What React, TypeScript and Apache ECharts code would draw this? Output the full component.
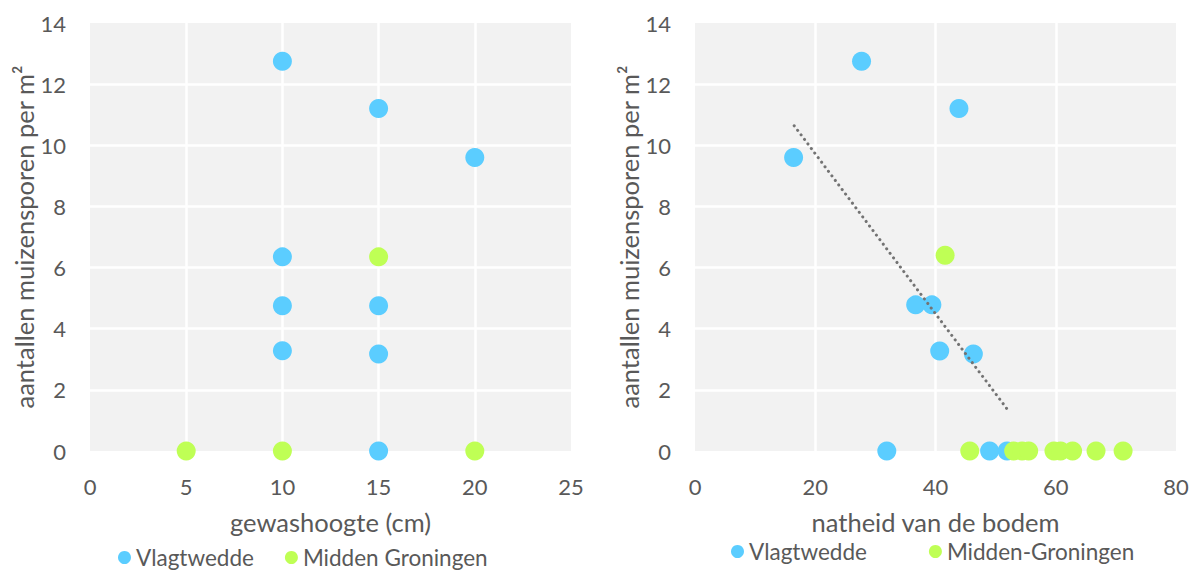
import { useEffect, useRef } from "react";
import * as echarts from "echarts";

// Left panel: crop height (cm) against mouse tracks per m²
const heightVlagtwedde = [10, 15, 20, 10, 10, 15, 10, 15, 15];
const tracksVlagtweddeH = [12.75, 11.2, 9.6, 6.35, 4.75, 4.75, 3.28, 3.17, 0];
const heightMidden = [5, 10, 15, 20];
const tracksMiddenH = [0, 0, 6.35, 0];

// Right panel: soil wetness against mouse tracks per m²
const wetVlagtwedde = [16.4, 27.7, 43.9, 36.7, 39.4, 40.7, 46.3, 31.9, 49.0, 51.9];
const tracksVlagtweddeW = [9.6, 12.75, 11.2, 4.78, 4.78, 3.27, 3.17, 0, 0, 0];
const wetMidden = [41.6, 45.7, 53.0, 54.4, 55.5, 59.7, 60.8, 62.8, 66.7, 71.2];
const tracksMiddenW = [6.4, 0, 0, 0, 0, 0, 0, 0, 0, 0];

// Linear trend line for Vlagtwedde (right panel), start and end points
const trendX = [16.5, 52];
const trendY = [10.64, 1.35];

const zip = (xs: number[], ys: number[]) => xs.map((x, i) => [x, ys[i]]);

const FONT = "Lato, 'Noto Sans', sans-serif";
const TEXT = "#595959";
const BLUE = "#5BCDFF";
const GREEN = "#BFFF55";

function valueAxis(grid: number, min: number, max: number, interval: number, name: string, isX: boolean) {
  return {
    type: "value",
    gridIndex: grid,
    min,
    max,
    interval,
    name,
    nameLocation: "middle",
    nameGap: isX ? 58 : 50,
    nameTextStyle: { color: TEXT, fontFamily: FONT, fontSize: 25.5 },
    axisLine: { show: false },
    axisTick: { show: false },
    axisLabel: { color: TEXT, fontFamily: FONT, fontSize: 22, margin: 24 },
    splitLine: {
      show: true,
      showMinLine: false,
      showMaxLine: false,
      lineStyle: { color: "#ffffff", width: 2.5 },
    },
  };
}

export default function App() {
  const ref = useRef<HTMLDivElement>(null);

  useEffect(() => {
    if (!ref.current) return;
    const chart = echarts.init(ref.current, undefined, { renderer: "svg" });
    const yName = "aantallen muizensporen per m²";
    chart.setOption({
      animation: false,
      textStyle: { fontFamily: FONT },
      grid: [
        { left: 90, top: 23, width: 481, height: 428, show: true, backgroundColor: "#f2f2f2", borderWidth: 0 },
        { left: 695, top: 23, width: 481, height: 428, show: true, backgroundColor: "#f2f2f2", borderWidth: 0 },
      ],
      xAxis: [
        valueAxis(0, 0, 25, 5, "gewashoogte (cm)", true),
        valueAxis(1, 0, 80, 20, "natheid van de bodem", true),
      ],
      yAxis: [
        valueAxis(0, 0, 14, 2, yName, false),
        valueAxis(1, 0, 14, 2, yName, false),
      ],
      legend: [
        {
          data: ["Vlagtwedde", "Midden Groningen"],
          left: 118,
          top: 546,
          padding: 0,
          icon: "circle",
          itemWidth: 13,
          itemHeight: 13,
          itemGap: 31,
          textStyle: { color: TEXT, fontFamily: FONT, fontSize: 22.5 },
        },
        {
          data: ["Vlagtwedde", "Midden-Groningen"],
          left: 731,
          top: 540,
          padding: 0,
          icon: "circle",
          itemWidth: 13,
          itemHeight: 13,
          itemGap: 62,
          textStyle: { color: TEXT, fontFamily: FONT, fontSize: 22.5 },
        },
      ],
      series: [
        {
          name: "Vlagtwedde",
          type: "scatter",
          xAxisIndex: 0,
          yAxisIndex: 0,
          clip: false,
          symbolSize: 19,
          itemStyle: { color: BLUE, opacity: 1 },
          data: zip(heightVlagtwedde, tracksVlagtweddeH),
        },
        {
          name: "Midden Groningen",
          type: "scatter",
          xAxisIndex: 0,
          yAxisIndex: 0,
          clip: false,
          symbolSize: 19,
          itemStyle: { color: GREEN, opacity: 1 },
          data: zip(heightMidden, tracksMiddenH),
        },
        {
          name: "Vlagtwedde",
          type: "scatter",
          xAxisIndex: 1,
          yAxisIndex: 1,
          clip: false,
          symbolSize: 19,
          itemStyle: { color: BLUE, opacity: 1 },
          data: zip(wetVlagtwedde, tracksVlagtweddeW),
        },
        {
          name: "Midden-Groningen",
          type: "scatter",
          xAxisIndex: 1,
          yAxisIndex: 1,
          clip: false,
          symbolSize: 19,
          itemStyle: { color: GREEN, opacity: 1 },
          data: zip(wetMidden, tracksMiddenW),
        },
        {
          name: "trend",
          type: "line",
          xAxisIndex: 1,
          yAxisIndex: 1,
          symbol: "none",
          silent: true,
          z: 5,
          lineStyle: { color: "#737373", width: 3, type: [0.1, 5.6], cap: "round" },
          data: zip(trendX, trendY),
        },
      ],
    });
    return () => chart.dispose();
  }, []);

  return (
    <div
      ref={ref}
      style={{ position: "fixed", left: 0, top: 0, width: 1199, height: 571, background: "#ffffff" }}
    />
  );
}
